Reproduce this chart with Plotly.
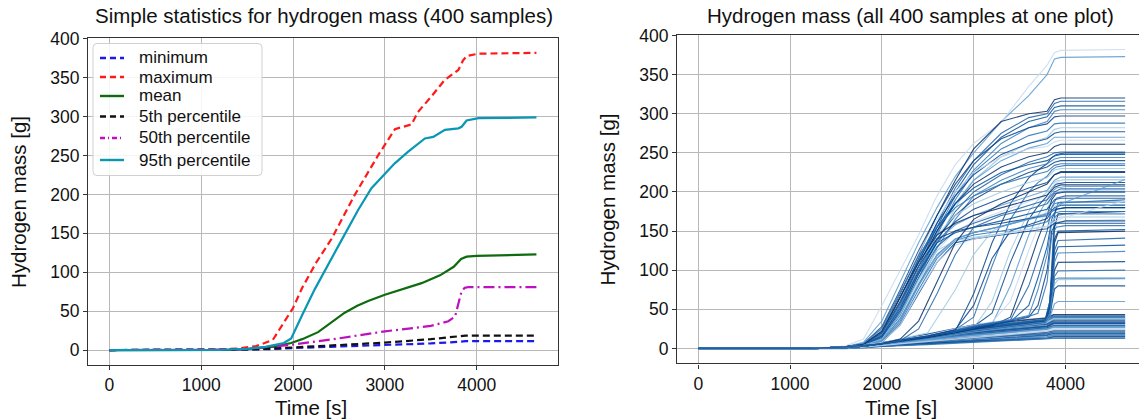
import plotly.graph_objects as go

# ---------------- Left panel: simple statistics ----------------
MIN_T = [0, 1400, 1700, 2000, 2500, 3000, 3500, 3800, 3880, 4650]
MIN_V = [0, 0.2, 1, 2.5, 4.5, 6, 8.5, 10.5, 11.5, 11.5]

MAX_T = [0, 1200, 1400, 1600, 1780, 2000, 2100, 2250, 2420, 2670, 2930, 3110, 3290, 3360, 3500, 3650, 3800, 3850, 3890, 4020, 4650]
MAX_V = [0, 0.5, 2, 5, 13, 54, 80, 112, 143, 199, 251, 284, 290, 306, 325, 347, 360, 372, 378, 381, 382]

MEAN_T = [0, 1300, 1600, 1800, 1980, 2100, 2273, 2400, 2563, 2700, 2818, 3000, 3182, 3400, 3600, 3750, 3830, 3890, 4000, 4650]
MEAN_V = [0, 0.3, 2, 4.5, 9, 14, 23, 34, 48, 57, 63, 71, 78, 86, 96, 107, 117, 120, 121, 123]

P5_T = [0, 1400, 1700, 2000, 2500, 3000, 3500, 3800, 3880, 4650]
P5_V = [0, 0.3, 1.5, 3.5, 6.5, 9.5, 14, 17, 18.6, 18.6]

MED_T = [0, 1400, 1727, 2000, 2500, 3000, 3500, 3691, 3764, 3800, 3836, 3870, 3910, 4650]
MED_V = [0, 0.5, 4, 7, 15, 24, 31, 37, 43, 60, 76, 80, 81, 81]

P95_T = [0, 1200, 1500, 1700, 1900, 1980, 2100, 2236, 2527, 2709, 2854, 3000, 3108, 3254, 3436, 3527, 3654, 3800, 3836, 3890, 4020, 4650]
P95_V = [0, 0.3, 1.5, 4, 9, 15, 45, 78, 141, 180, 208, 227, 240, 255, 272, 274, 283, 285, 287, 295, 298, 299]

STAT_NAMES = ["minimum", "maximum", "mean", "5th percentile", "50th percentile", "95th percentile"]

# ---------------- Right panel: samples (representative curves) ----------------
# early risers
TE = [0, 1200, 1600, 1800, 2000, 2200, 2400, 2600, 2800, 3000, 3300, 3600, 3800, 3880, 3950, 4650]
EARLY = [
    [0, 0, 2, 8, 35, 85, 135, 180, 220, 250, 290, 323, 350, 370, 372, 373],
    [0, 0, 3, 12, 55, 100, 145, 195, 235, 262, 289, 335, 362, 378, 381, 382],
    [0, 0, 2, 6, 25, 70, 120, 170, 215, 255, 290, 300, 303, 318, 320, 320],
    [0, 0, 2, 6, 20, 60, 110, 160, 205, 240, 275, 295, 300, 313, 316, 316],
    [0, 0, 2, 5, 18, 55, 105, 155, 200, 235, 270, 290, 296, 308, 310, 310],
    [0, 0, 2, 5, 15, 50, 100, 150, 195, 228, 262, 282, 290, 303, 305, 305],
    [0, 0, 2, 6, 28, 75, 125, 170, 210, 240, 268, 282, 287, 296, 297, 297],
    [0, 0, 2, 5, 12, 45, 95, 145, 190, 225, 255, 272, 278, 287, 288, 288],
    [0, 0, 2, 4, 10, 38, 85, 135, 180, 215, 245, 262, 270, 280, 282, 282],
    [0, 0, 2, 5, 20, 65, 115, 160, 195, 222, 248, 262, 268, 275, 277, 277],
    [0, 0, 2, 5, 15, 50, 100, 148, 185, 215, 240, 256, 262, 270, 270, 270],
    [0, 0, 2, 6, 25, 72, 122, 165, 200, 225, 245, 255, 258, 264, 266, 266],
    [0, 0, 2, 5, 18, 58, 105, 150, 185, 210, 232, 245, 250, 258, 261, 261],
    [0, 0, 2, 4, 12, 42, 90, 138, 175, 200, 222, 238, 245, 250, 251, 251],
    [0, 0, 2, 5, 22, 65, 112, 155, 185, 205, 225, 235, 240, 246, 248, 248],
    [0, 0, 2, 4, 9, 35, 80, 128, 165, 195, 215, 230, 236, 242, 244, 244],
    [0, 0, 2, 5, 16, 55, 100, 140, 170, 190, 210, 225, 232, 238, 240, 240],
    [0, 0, 2, 6, 26, 72, 118, 155, 180, 195, 210, 220, 226, 234, 236, 236],
    [0, 0, 2, 5, 20, 60, 105, 145, 170, 185, 200, 212, 218, 228, 230, 230],
    [0, 0, 2, 4, 14, 48, 95, 135, 162, 178, 192, 205, 212, 222, 226, 226],
    [0, 0, 2, 5, 18, 55, 100, 138, 158, 170, 183, 195, 202, 215, 219, 219],
    [0, 0, 2, 4, 10, 40, 85, 125, 150, 162, 175, 188, 196, 210, 215, 215],
    [0, 0, 2, 5, 22, 65, 110, 145, 160, 170, 180, 190, 196, 206, 209, 209],
    [0, 0, 2, 4, 12, 45, 90, 130, 150, 160, 172, 183, 190, 200, 204, 204],
    [0, 0, 2, 5, 16, 52, 98, 135, 148, 155, 163, 172, 178, 190, 192, 192],
    [0, 0, 2, 4, 10, 38, 82, 120, 140, 148, 156, 165, 172, 185, 187, 187],
    [0, 0, 2, 5, 20, 60, 105, 140, 150, 155, 160, 166, 170, 180, 183, 183],
    [0, 0, 2, 4, 8, 32, 75, 115, 138, 145, 150, 156, 162, 173, 175, 175],
    [0, 0, 2, 4, 12, 44, 88, 125, 138, 142, 147, 152, 156, 166, 168, 168],
    [0, 0, 2, 4, 8, 30, 70, 110, 135, 140, 145, 150, 153, 160, 160, 160],
    [0, 0, 2, 4, 10, 38, 80, 118, 140, 148, 156, 165, 170, 178, 185, 216],
    [0, 0, 2, 4, 8, 30, 72, 110, 132, 140, 146, 152, 156, 162, 166, 189],
    [0, 0, 2, 4, 6, 12, 35, 85, 135, 165, 185, 200, 210, 222, 225, 225],
    [0, 0, 2, 4, 6, 10, 25, 70, 120, 155, 170, 178, 185, 198, 200, 200],
]

# late risers (leave the lower band between ~2500 s and ~3750 s)
TL = [0, 1200, 1600, 1800, 2000, 2500, 2800, 3000, 3200, 3400, 3600, 3700, 3800, 3850, 3900, 4000, 4650]
LATE = [
    [0, 0, 1, 3, 7, 16, 22, 70, 135, 185, 218, 228, 236, 244, 248, 250, 250],
    [0, 0, 1, 3, 7, 17, 24, 40, 105, 165, 200, 212, 220, 228, 232, 234, 234],
    [0, 0, 1, 3, 6, 15, 21, 26, 60, 125, 175, 190, 200, 210, 214, 216, 216],
    [0, 0, 1, 3, 7, 16, 23, 28, 45, 110, 165, 182, 195, 205, 210, 212, 212],
    [0, 0, 1, 3, 6, 15, 22, 27, 31, 80, 145, 170, 190, 200, 205, 207, 207],
    [0, 0, 1, 3, 7, 17, 25, 30, 34, 60, 125, 155, 178, 195, 200, 202, 202],
    [0, 0, 1, 3, 6, 14, 20, 25, 29, 40, 105, 140, 170, 190, 198, 200, 200],
    [0, 0, 1, 3, 7, 16, 23, 28, 32, 36, 80, 115, 150, 180, 192, 195, 195],
    [0, 0, 1, 3, 6, 15, 21, 26, 30, 34, 55, 90, 130, 165, 178, 180, 180],
    [0, 0, 1, 3, 7, 16, 24, 29, 33, 37, 42, 75, 120, 160, 170, 172, 172],
    [0, 0, 1, 3, 6, 15, 22, 27, 31, 35, 40, 55, 100, 150, 160, 163, 163],
    [0, 0, 1, 3, 7, 16, 23, 28, 32, 36, 41, 45, 85, 145, 155, 157, 157],
    [0, 0, 1, 3, 7, 20, 75, 120, 150, 160, 167, 170, 173, 180, 183, 184, 184],
    [0, 0, 1, 3, 7, 16, 24, 55, 115, 150, 158, 162, 166, 175, 178, 180, 180],
]

# curves that jump at ~3850 s
TJ = [0, 1200, 1600, 1800, 2000, 2500, 3000, 3500, 3780, 3830, 3880, 3920, 4650]
JUMP = [
    [0, 0, 1, 3, 6, 15, 26, 33, 36, 60, 135, 148, 150],
    [0, 0, 1, 3, 6, 14, 25, 32, 35, 55, 125, 138, 141],
    [0, 0, 1, 3, 6, 14, 24, 31, 34, 52, 118, 130, 132],
    [0, 0, 1, 3, 6, 14, 25, 32, 36, 50, 110, 122, 124],
    [0, 0, 1, 3, 6, 14, 24, 31, 35, 48, 100, 110, 111],
    [0, 0, 1, 3, 6, 13, 23, 30, 34, 45, 92, 99, 100],
    [0, 0, 1, 3, 6, 13, 22, 29, 33, 43, 82, 88, 89],
    [0, 0, 1, 3, 6, 13, 22, 29, 33, 42, 76, 80, 80],
    [0, 0, 1, 3, 5, 12, 21, 28, 32, 40, 57, 60, 60],
    [0, 0, 1, 3, 6, 14, 25, 32, 36, 58, 150, 162, 165],
    [0, 0, 1, 3, 6, 14, 24, 31, 35, 55, 155, 172, 175],
    [0, 0, 1, 3, 6, 15, 26, 33, 37, 60, 170, 186, 190],
    [0, 0, 1, 3, 6, 14, 25, 32, 36, 55, 140, 150, 152],
    [0, 0, 1, 3, 6, 13, 23, 30, 34, 45, 88, 90, 90],
]

# curves that stay in the lower band
TB = [0, 1200, 1600, 1800, 2000, 2500, 3000, 3500, 3800, 3870, 4650]
BAND = [
    [0, 0, 1, 3, 7, 18, 30, 36, 39, 43, 43],
    [0, 0, 1, 3, 7, 17, 28, 34, 37, 41, 41],
    [0, 0, 1, 3, 6, 16, 26, 32, 35, 39, 39],
    [0, 0, 1, 3, 6, 15, 24, 30, 33, 37, 37],
    [0, 0, 1, 3, 6, 14, 22, 28, 31, 35, 35],
    [0, 0, 1, 2, 5, 13, 21, 26, 29, 33, 33],
    [0, 0, 1, 2, 5, 12, 19, 24, 27, 31, 31],
    [0, 0, 1, 2, 5, 11, 18, 23, 26, 29, 29],
    [0, 0, 1, 2, 4, 10, 16, 21, 24, 27, 27],
    [0, 0, 1, 2, 4, 10, 15, 20, 23, 25, 25],
    [0, 0, 1, 2, 4, 9, 14, 18, 21, 23, 23],
    [0, 0, 1, 2, 4, 8, 13, 17, 19, 21, 21],
    [0, 0, 1, 2, 3, 7, 11, 15, 17, 19, 19],
    [0, 0, 1, 2, 3, 6, 10, 13, 15, 17, 17],
    [0, 0, 1, 2, 3, 6, 9, 12, 13, 15, 15],
    [0, 0, 0, 1, 3, 5, 8, 11, 12, 13, 13],
    [0, 0, 1, 3, 7, 16, 25, 31, 34, 38, 38],
    [0, 0, 1, 2, 5, 13, 20, 25, 28, 32, 32],
    [0, 0, 1, 2, 4, 11, 17, 22, 25, 28, 28],
    [0, 0, 1, 2, 4, 9, 14, 19, 22, 24, 24],
]

X_TICKS = [0, 1000, 2000, 3000, 4000]
Y_TICKS = [0, 50, 100, 150, 200, 250, 300, 350, 400]

# ---------------- styles ----------------
W, H = 1139, 420
FONT = "Liberation Sans, Arial, sans-serif"
BLUES = ["#08306b", "#1f63a8", "#08519c", "#3b7fc0", "#0b4386", "#2a72b5", "#9ecae1", "#08458f", "#5a9bd0", "#c6dbef"]

fig = go.Figure()

stat_specs = [
    (MIN_T, MIN_V, "#1a1aee", "7px,4px"),
    (MAX_T, MAX_V, "#ff1a1a", "7px,4px"),
    (MEAN_T, MEAN_V, "#0e6b0e", "solid"),
    (P5_T, P5_V, "#111111", "7px,4px"),
    (MED_T, MED_V, "#bf10bf", "11px,4px,2px,4px"),
    (P95_T, P95_V, "#0897b4", "solid"),
]
for name, (t, v, c, d) in zip(STAT_NAMES, stat_specs):
    fig.add_trace(go.Scatter(x=t, y=v, mode="lines", name=name, showlegend=False,
                             line=dict(color=c, width=2.2, dash=d),
                             xaxis="x", yaxis="y"))

i = 0
for grid, fam, lw in [(TB, BAND, 1.6), (TJ, JUMP, 1.2), (TL, LATE, 1.1), (TE, EARLY, 1.1)]:
    for curve in fam:
        col = BLUES[i % len(BLUES)]
        fig.add_trace(go.Scatter(x=grid, y=curve, mode="lines", showlegend=False,
                                 line=dict(color=col, width=lw), opacity=0.85,
                                 xaxis="x2", yaxis="y2", hoverinfo="skip"))
        i += 1

axis_common = dict(showgrid=True, gridcolor="#b8b8b8", gridwidth=1, zeroline=False,
                   showline=True, linecolor="#333333", linewidth=1.2, automargin=False,
                   ticks="outside", ticklen=4, tickcolor="#333333",
                   tickfont=dict(family=FONT, size=17.5, color="#111111"))

fig.update_layout(
    width=W, height=H, autosize=False,
    margin=dict(l=0, r=0, t=0, b=0, pad=0, autoexpand=False),
    paper_bgcolor="white", plot_bgcolor="white",
    font=dict(family=FONT, color="#111111"),
    xaxis=dict(domain=[88 / W, 558 / W], range=[-232, 4885], tickvals=X_TICKS,
               anchor="y", mirror=True, **axis_common),
    yaxis=dict(domain=[1 - 364.9 / H, 1 - 38 / H], range=[-19.1, 401.1], tickvals=Y_TICKS,
               anchor="x", mirror=True, **axis_common),
    xaxis2=dict(domain=[677 / W, 1.0], range=[-232, 4801], tickvals=X_TICKS,
                anchor="y2", mirror=True, **axis_common),
    yaxis2=dict(domain=[1 - 363.4 / H, 1 - 34.6 / H], range=[-19.1, 401.1], tickvals=Y_TICKS,
                anchor="x2", mirror=False, **axis_common),
    showlegend=False,
)

# ---- hand-drawn legend box (matplotlib-like) in pixel-derived paper coords ----
def px(x):
    return x / W

def py(y):
    return 1 - y / H

L, R, T, B, r = 93, 262, 43.5, 175.5, 4
path = (f"M {px(L + r)},{py(T)} L {px(R - r)},{py(T)} Q {px(R)},{py(T)} {px(R)},{py(T + r)} "
        f"L {px(R)},{py(B - r)} Q {px(R)},{py(B)} {px(R - r)},{py(B)} "
        f"L {px(L + r)},{py(B)} Q {px(L)},{py(B)} {px(L)},{py(B - r)} "
        f"L {px(L)},{py(T + r)} Q {px(L)},{py(T)} {px(L + r)},{py(T)} Z")
fig.add_shape(type="path", path=path, xref="paper", yref="paper",
              fillcolor="rgba(255,255,255,0.85)", line=dict(color="#d0d0d0", width=1), layer="above")

LEGEND_DASH = {"solid": "solid", "7px,4px": "6px,4px", "11px,4px,2px,4px": "5px,3px,1px,3px"}
ROW_Y = [58, 77, 96, 116.5, 138, 160]
for name, (t, v, c, d), yy in zip(STAT_NAMES, stat_specs, ROW_Y):
    fig.add_shape(type="line", x0=px(100), x1=px(124), y0=py(yy), y1=py(yy),
                  xref="paper", yref="paper", layer="above",
                  line=dict(color=c, width=2.4, dash=LEGEND_DASH[d]))
    fig.add_annotation(text=name, x=px(137), y=py(yy), xref="paper", yref="paper",
                       xanchor="left", yanchor="middle", showarrow=False,
                       font=dict(family=FONT, size=17, color="#111111"))

ann = [
    dict(text="Simple statistics for hydrogen mass (400 samples)", x=323.5 / W, y=1 - 16 / H, size=20.5, angle=0),
    dict(text="Hydrogen mass (all 400 samples at one plot)", x=910.7 / W, y=1 - 16 / H, size=20.5, angle=0),
    dict(text="Time [s]", x=311 / W, y=1 - 407 / H, size=20.5, angle=0),
    dict(text="Time [s]", x=901 / W, y=1 - 407 / H, size=20.5, angle=0),
    dict(text="Hydrogen mass [g]", x=18 / W, y=1 - 202 / H, size=20.5, angle=-90),
    dict(text="Hydrogen mass [g]", x=606.5 / W, y=1 - 200 / H, size=20.5, angle=-90),
]
for a in ann:
    fig.add_annotation(text=a["text"], x=a["x"], y=a["y"], xref="paper", yref="paper",
                       xanchor="center", yanchor="middle", showarrow=False,
                       textangle=a["angle"], font=dict(family=FONT, size=a["size"], color="#111111"))

fig.write_html("out.html", config={"displayModeBar": False},
               post_script="document.body.style.margin='0';document.body.style.padding='0';")
